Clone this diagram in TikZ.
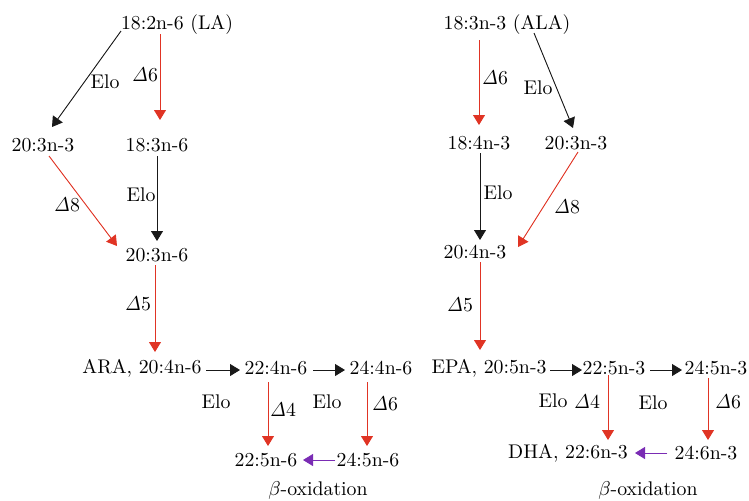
\documentclass[tikz,border=0pt]{standalone}
\usetikzlibrary{arrows.meta,calc}
\definecolor{dred}{RGB}{224,52,36}
\definecolor{dpurple}{RGB}{122,44,180}
\tikzset{
  lbl/.style={font=\fontsize{9.9}{11}\selectfont, inner sep=0pt, anchor=center},
  tip/.style={-{Triangle[length=5pt,width=6pt]}},
  blk/.style={tip, draw=black!90, fill=black!90, line width=0.45pt},
  redar/.style={tip, draw=dred, fill=dred, line width=0.45pt},
  purar/.style={tip, draw=dpurple, fill=dpurple, line width=0.45pt},
}
\newcommand{\dlt}{$\mathit{\Delta}$}
\begin{document}
\begin{tikzpicture}[x=0.5pt,y=-0.5pt]
\useasboundingbox (0,0) rectangle (749,500);
% ---------- left (n-6) ----------
\node[lbl] (la)    at (177,25)  {18:2n-6 (LA)};
\node[lbl] (l203)  at (43,145)  {20:3n-3};
\node[lbl] (l183)  at (157,145) {18:3n-6};
\node[lbl] (l203b) at (157,255) {20:3n-6};
\node[lbl] (ara)   at (142,368) {ARA, 20:4n-6};
\node[lbl] (l224)  at (276,368) {22:4n-6};
\node[lbl] (l244)  at (381,368) {24:4n-6};
\node[lbl] (l225)  at (266,460) {22:5n-6};
\node[lbl] (l245)  at (368,460) {24:5n-6};
\node[lbl] (t1) at (145,75)  {\dlt6};
\node[lbl] (t2) at (105,82)  {Elo};
\node[lbl] (t3) at (141,195) {Elo};
\node[lbl] (t4) at (67,205)  {\dlt8};
\node[lbl] (t5) at (138,304) {\dlt5};
\node[lbl] (t6) at (216,402) {Elo};
\node[lbl] (t7) at (283,410) {\dlt4};
\node[lbl] (t8) at (327,402) {Elo};
\node[lbl] (t9) at (385,404) {\dlt6};
\node[lbl] (b1) at (318,490) {$\beta$-oxidation};
\draw[redar] ($(la)+(-17,9)$) -- ($(l183)+(3,-25)$);
\draw[blk]   ($(la)+(-56,6)$) -- ($(l203)+(9,-18)$);
\draw[redar] ($(l203)+(6,11)$) -- ($(l203b)+(-40,-9)$);
\draw[blk]   ($(l183)+(0,11)$) -- ($(l203b)+(0,-14)$);
\draw[redar] ($(l203b)+(-2,10)$) -- ($(ara)+(13,-16)$);
\draw[blk]   ($(ara)+(64,2)$) -- ($(l224)+(-36,2)$);
\draw[blk]   ($(l224)+(37,2)$) -- ($(l244)+(-36,2)$);
\draw[redar] ($(l224)+(-8,14)$) -- ($(l225)+(2,-14)$);
\draw[redar] ($(l244)+(-14,14)$) -- ($(l245)+(-1,-14)$);
\draw[purar] ($(l245)+(-33,0)$) -- ($(l225)+(37,0)$);
% ---------- right (n-3) ----------
\node[lbl] (ala)   at (507,25)  {18:3n-3 (ALA)};
\node[lbl] (r184)  at (479,143) {18:4n-3};
\node[lbl] (r203)  at (576,143) {20:3n-3};
\node[lbl] (r204)  at (475,252) {20:4n-3};
\node[lbl] (epa)   at (489,368) {EPA, 20:5n-3};
\node[lbl] (r225)  at (614,368) {22:5n-3};
\node[lbl] (r245)  at (716,368) {24:5n-3};
\node[lbl] (dha)   at (568,453) {DHA, 22:6n-3};
\node[lbl] (r246)  at (706,453) {24:6n-3};
\node[lbl] (s1) at (495,78)  {\dlt6};
\node[lbl] (s2) at (538,88)  {Elo};
\node[lbl] (s3) at (498,193) {Elo};
\node[lbl] (s4) at (567,207) {\dlt8};
\node[lbl] (s5) at (460,305) {\dlt5};
\node[lbl] (s6) at (553,401) {Elo};
\node[lbl] (s7) at (587,402) {\dlt4};
\node[lbl] (s8) at (653,403) {Elo};
\node[lbl] (s9) at (728,402) {\dlt6};
\node[lbl] (b2) at (648,490) {$\beta$-oxidation};
\draw[redar] ($(ala)+(-28,15)$) -- ($(r184)+(0,-18)$);
\draw[blk]   ($(ala)+(27,8)$) -- ($(r203)+(-3,-15)$);
\draw[blk]   ($(r184)+(1,10)$) -- ($(r204)+(5,-12)$);
\draw[redar] ($(r203)+(2,9)$) -- ($(r204)+(43,-5)$);
\draw[redar] ($(r204)+(5,10)$) -- ($(epa)+(-9,-18)$);
\draw[blk]   ($(epa)+(61,2)$) -- ($(r225)+(-32,2)$);
\draw[blk]   ($(r225)+(36,2)$) -- ($(r245)+(-34,2)$);
\draw[redar] ($(r225)+(-6,7)$) -- ($(dha)+(40,-13)$);
\draw[redar] ($(r245)+(-8,10)$) -- ($(r246)+(2,-13)$);
\draw[purar] ($(r246)+(-39,0)$) -- ($(dha)+(67,0)$);
\end{tikzpicture}
\end{document}
